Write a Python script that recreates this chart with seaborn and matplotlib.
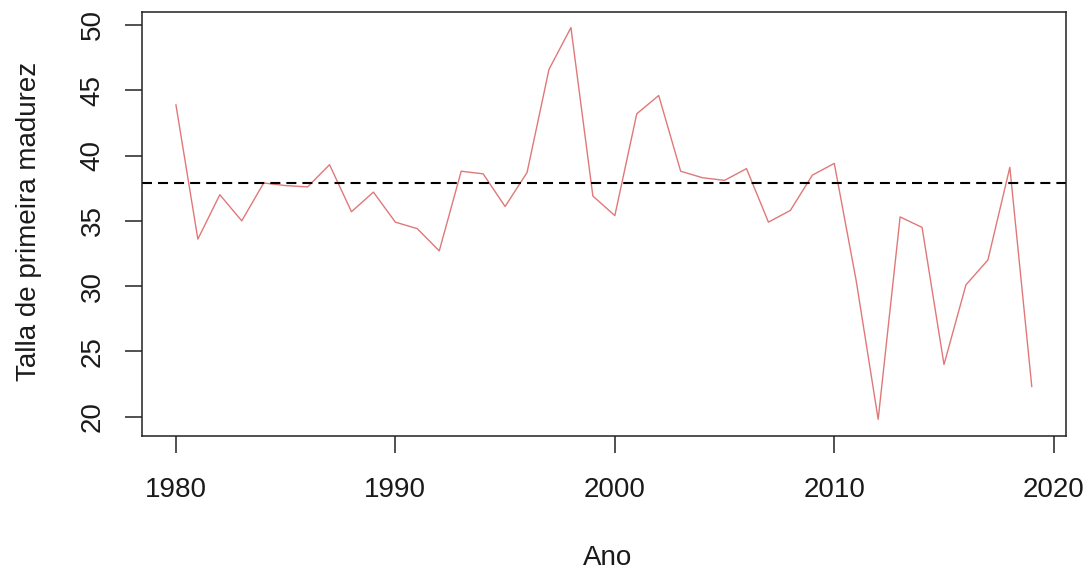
import matplotlib
matplotlib.use("Agg")
import matplotlib.pyplot as plt
import seaborn as sns
import pandas as pd

years = list(range(1980, 2020))
talla = [43.9, 33.6, 37.0, 35.0, 37.9, 37.7, 37.6, 39.3, 35.7, 37.2,
         34.9, 34.4, 32.7, 38.8, 38.6, 36.1, 38.7, 46.6, 49.8, 36.9,
         35.4, 43.2, 44.6, 38.8, 38.3, 38.1, 39.0, 34.9, 35.8, 38.5,
         39.4, 30.4, 19.8, 35.3, 34.5, 24.0, 30.1, 32.0, 39.1, 22.3]
referencia = 37.9
x_ticks = [1980, 1990, 2000, 2010, 2020]
y_ticks = [20, 25, 30, 35, 40, 45, 50]

sns.set_style("ticks")
plt.rcParams['font.family'] = ['Liberation Sans', 'DejaVu Sans']

df = pd.DataFrame({"Ano": years, "Talla": talla})

fig = plt.figure(figsize=(10.89, 5.75), dpi=100)
ax = fig.add_axes([0.1301, 0.2426, 0.8488, 0.7371])

sns.lineplot(data=df, x="Ano", y="Talla", ax=ax, color="#E07878", linewidth=1.0)
ax.axhline(referencia, color="black", linewidth=1.5, linestyle=(0, (4.8, 2.9)))

ax.set_xlim(1978.44, 2020.56)
ax.set_ylim(18.56, 51.02)
ax.set_xticks(x_ticks)
ax.set_yticks(y_ticks)
ax.set_xticklabels([str(t) for t in x_ticks], fontsize=20, color="#1a1a1a")
ax.set_yticklabels([str(t) for t in y_ticks], fontsize=20, color="#1a1a1a",
                   rotation=90, va="center")
ax.tick_params(axis="both", length=12, width=1.1, color="#222222")
ax.tick_params(axis="x", pad=18)
ax.tick_params(axis="y", pad=14)

for s in ax.spines.values():
    s.set_visible(True)
    s.set_linewidth(1.1)
    s.set_color("#222222")

ax.set_xlabel("Ano", fontsize=20, color="#1a1a1a")
ax.set_ylabel("Talla de primeira madurez", fontsize=20, color="#1a1a1a")
ax.xaxis.set_label_coords(0.5045, -0.258)
ax.yaxis.set_label_coords(-0.108, 0.505)

fig.savefig("out.png", dpi=100, facecolor="white")
